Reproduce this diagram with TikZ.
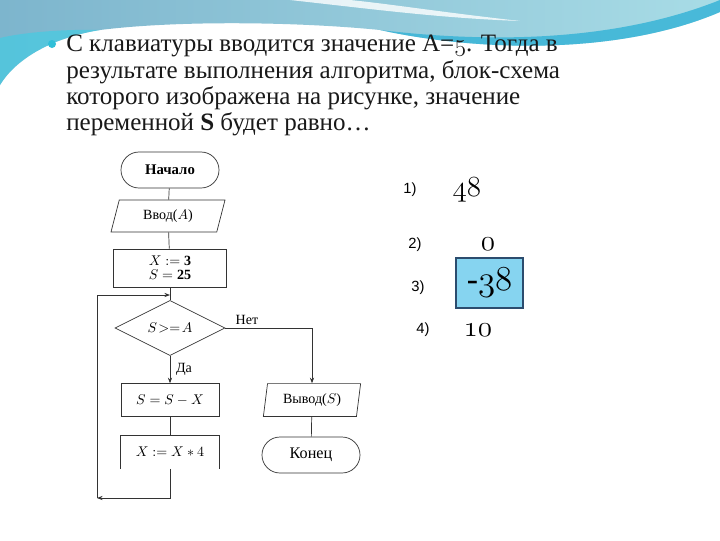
\documentclass[tikz,border=0pt]{standalone}
\usepackage{fontspec}
\setmainfont{Liberation Serif}
\newfontfamily\numfont{Liberation Sans}
\usetikzlibrary{arrows.meta,positioning,shapes.geometric,shapes.misc}
\definecolor{skyA}{HTML}{7DB5CD}
\definecolor{skyB}{HTML}{A8DCE6}
\definecolor{swoosh}{HTML}{38B4D7}
\definecolor{edgecyan}{HTML}{45CBE2}
\definecolor{bulletcyan}{HTML}{30BFD8}
\definecolor{answerfill}{HTML}{86D4F0}
\definecolor{answerline}{HTML}{2C4C6E}
\newcommand{\osn}[1]{{\usefont{OML}{cmm}{m}{it}#1}}

\begin{document}
\begin{tikzpicture}[x=0.025cm,y=-0.025cm,
  line/.style={draw=black!80,line width=0.5pt},
  arr/.style={line,-{Stealth[length=4pt,width=3pt]}},
  chart/.style={font=\fontsize{10}{12}\selectfont},
  termbox/.style={chart,rounded rectangle,draw=black!80,line width=0.5pt,
    minimum width=2.45cm,minimum height=0.9cm,inner sep=0pt},
  iobox/.style={chart,trapezium,trapezium stretches body,draw=black!80,
    line width=0.5pt,minimum height=0.8cm,inner sep=0pt},
  procbox/.style={chart,rectangle,draw=black!80,line width=0.5pt,
    minimum width=2.45cm,minimum height=0.82cm,inner sep=0pt,align=center},
  condbox/.style={chart,diamond,draw=black!80,line width=0.5pt,
    minimum width=2.75cm,minimum height=1.2cm,inner sep=0pt},
  optnum/.style={font=\numfont\fontsize{10.5}{12}\selectfont},
  optval/.style={font=\fontsize{21}{24}\selectfont}]
  \useasboundingbox (0,0) rectangle (720,540);
  % Background
  \fill[white] (0,0) rectangle (720,540);
  \shade[left color=skyA,right color=skyB] (0,0) -- (720,0) -- (720,12)
    .. controls (620,55) and (480,52) .. (380,30)
    .. controls (300,22) and (180,20) .. (100,30)
    .. controls (50,38) and (15,60) .. (0,85) -- cycle;
  \fill[edgecyan,opacity=0.7] (0,38) -- (0,85)
    .. controls (15,60) and (50,38) .. (100,30)
    .. controls (60,29) and (20,33) .. (0,38) -- cycle;
  \fill[swoosh,opacity=0.85] (380,30) .. controls (480,42) and (610,44) .. (720,0)
    -- (720,12) .. controls (620,55) and (480,52) .. (380,30) -- cycle;
  \fill[white,opacity=0.8] (290,0) .. controls (380,10) and (440,18) .. (520,21)
    .. controls (440,12) and (390,4) .. (350,0) -- cycle;
  % Task text
  \fill[bulletcyan] (52,44) circle (4);
  \node[anchor=north west,align=left,inner sep=0pt,text=black!90,
    font=\fontsize{17.8}{18.6}\selectfont] (task) at (66,35)
    {С клавиатуры вводится значение A=\osn{5}. Тогда в\\
     результате выполнения алгоритма, блок-схема\\
     которого изображена на рисунке, значение\\
     переменной \textbf{S} будет равно\ldots};
  % Flowchart
  \node[termbox,font=\bfseries\fontsize{10.5}{12}\selectfont] (start) at (170,170) {Начало};
  \node[iobox,minimum width=2.85cm,trapezium left angle=57,trapezium right angle=123]
    (input) at (168,216) {Ввод($A$)};
  \node[procbox,minimum width=2.82cm,minimum height=0.95cm] (init) at (170,268)
    {$X := \mathbf{3}$\\[-2pt] $S = \mathbf{25}$};
  \node[condbox] (cond) at (170,328) {$S\!>=\!A$};
  \node[procbox] (sub) at (170,400) {$S = S - X$};
  \node[procbox,draw=none] (mult) at (170,452) {$X := X * 4$};
  \node[iobox,minimum width=2.43cm,minimum height=0.82cm,
    trapezium left angle=72,trapezium right angle=108] (output) at (312,400) {Вывод($S$)};
  \node[termbox,font=\fontsize{11.5}{13}\selectfont] (stop) at (311,455) {Конец};
  \node[chart] (no) at (247,320) {Нет};
  \node[chart] (yes) at (184,369) {Да};
  \coordinate (loopbot) at (97,498);
  \coordinate (looptop) at (97,295);
  \coordinate (joint) at (170,295);
  \draw[line] (mult.south west) -- (mult.north west) -- (mult.north east) -- (mult.south east);
  \draw[line] (start) -- (input);
  \draw[line] (input) -- (init);
  \draw[line] (init) -- (cond);
  \draw[arr] (cond) -- (sub);
  \draw[line] (sub) -- (mult);
  \draw[arr] (mult.south) |- (loopbot);
  \draw[arr] (loopbot) -- (looptop) -- (joint);
  \draw[arr] (cond.east) -| (output.north);
  \draw[line] (output) -- (stop);
  % Answers
  \node[optnum] (n1) at (410,190) {1)};
  \node[optval] (v1) at (467,190) {\osn{48}};
  \node[optnum] (n2) at (415,245) {2)};
  \node[optval] (v2) at (488,244) {\osn{0}};
  \node[draw=answerline,fill=answerfill,line width=0.8pt,minimum width=1.675cm,
    minimum height=1.25cm,optval,font=\fontsize{24}{26}\selectfont] (v3) at (489.5,283) {-\osn{38}};
  \node[optnum] (n3) at (418,288) {3)};
  \node[optnum] (n4) at (423,330) {4)};
  \node[optval] (v4) at (478,330) {\osn{10}};
\end{tikzpicture}
\end{document}
